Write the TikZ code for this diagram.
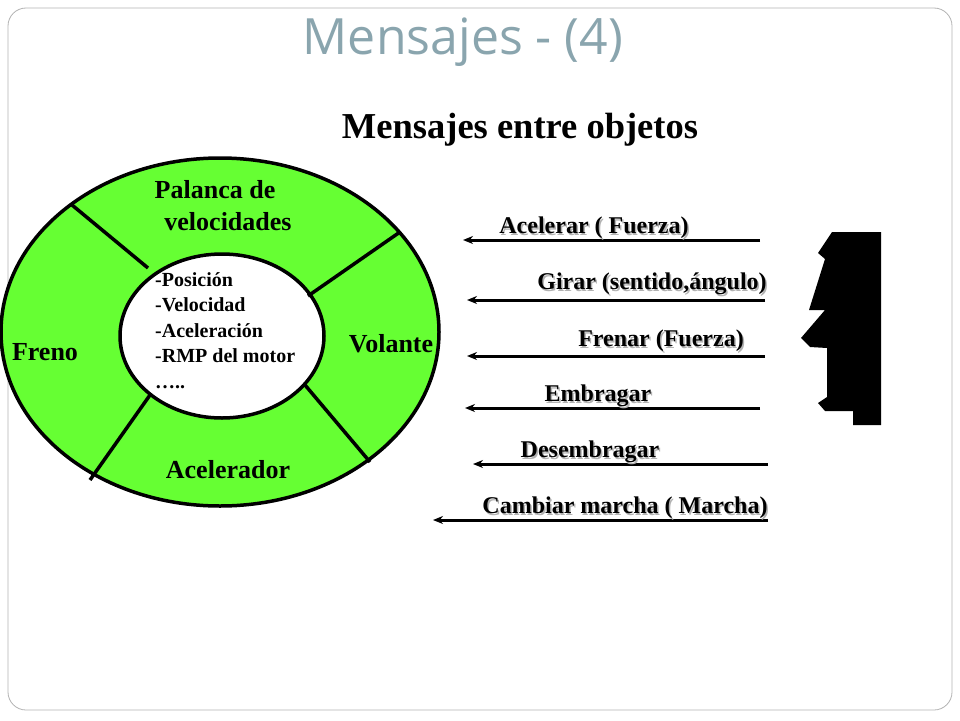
\documentclass[tikz,border=0pt]{standalone}
\usepackage{fontspec}
\setmainfont{Liberation Serif}
\newfontfamily\titlefont{Open Sans}
\usetikzlibrary{arrows.meta}
\definecolor{lgreen}{HTML}{66FF33}
\definecolor{ttl}{HTML}{8AA5AE}
\tikzset{
 lbl/.style={font=\bfseries\fontsize{26}{28}\selectfont},
 msg/.style={font=\bfseries\fontsize{24}{26}\selectfont},
 arr/.style={line width=3pt,-{Stealth[length=10pt,width=8pt]}},
 div/.style={line width=3.5pt},
}
\newcommand{\shtext}[5]{\node[#1,text=gray!60] at (#2+1.5,#3+1.5) {#5}; \node[#1] (#4) at (#2,#3) {#5};}
\begin{document}
\begin{tikzpicture}[x=1pt,y=-1pt]
\useasboundingbox (0,0) rectangle (960,720);
\draw[gray!60, line width=0.8pt, rounded corners=18pt] (8,8) rectangle (952,710);
\node[font=\titlefont\fontsize{50}{54}\selectfont, text=ttl] (title) at (463,42) {Mensajes - (4)};
\node[font=\bfseries\fontsize{36.5}{40}\selectfont] (sub) at (520,130) {Mensajes entre objetos};
% wheel
\draw[fill=lgreen, line width=3.5pt] (220,332) ellipse [x radius=219, y radius=174];
\draw[fill=white, line width=3.5pt] (222,336) ellipse [x radius=102, y radius=82];
\coordinate (d1a) at (72,205); \coordinate (d1b) at (148,268);
\coordinate (d2a) at (400,232); \coordinate (d2b) at (308,296);
\coordinate (d3a) at (305,385); \coordinate (d3b) at (370,462);
\coordinate (d4a) at (150,395); \coordinate (d4b) at (90,480);
\draw[div] (d1a) -- (d1b); \draw[div] (d2a) -- (d2b);
\draw[div] (d3a) -- (d3b); \draw[div] (d4a) -- (d4b);
\node[lbl] (pal) at (215,190) {Palanca de};
\node[lbl] (vel) at (228,222) {velocidades};
\node[lbl] (fre) at (45,352) {Freno};
\node[lbl] (vol) at (391,344) {Volante};
\node[lbl] (ace) at (228,470) {Acelerador};
\node[font=\bfseries\fontsize{20}{25.5}\selectfont, align=left, anchor=north west, inner sep=0pt] (attr) at (155,272) {-Posición\\-Velocidad\\-Aceleración\\-RMP del motor\\…..};
% silhouette
\fill (832,232) -- (818,253) -- (825,259) -- (809,310) -- (825,310) -- (801,338) -- (810,347) -- (827,348) -- (827,397) -- (818,403) -- (825,411) -- (853,411) -- (853,425) -- (881,425) -- (881,232) -- cycle;
% messages
\coordinate (s1) at (760,240); \coordinate (e1) at (463,240);
\coordinate (s2) at (765,300); \coordinate (e2) at (467,300);
\coordinate (s3) at (765,356); \coordinate (e3) at (467,356);
\coordinate (s4) at (760,408); \coordinate (e4) at (465,408);
\coordinate (s5) at (768,464); \coordinate (e5) at (473,464);
\coordinate (s6) at (768,520); \coordinate (e6) at (433,520);
\foreach \i in {1,...,6} {\draw[arr] (s\i) -- (e\i);}
\shtext{msg}{594}{228}{m1}{Acelerar ( Fuerza)}
\shtext{msg}{652}{284}{m2}{Girar (sentido,ángulo)}
\shtext{msg}{661}{341}{m3}{Frenar (Fuerza)}
\shtext{msg}{598}{396}{m4}{Embragar}
\shtext{msg}{590}{452}{m5}{Desembragar}
\shtext{msg}{625}{508}{m6}{Cambiar marcha ( Marcha)}
\end{tikzpicture}
\end{document}
